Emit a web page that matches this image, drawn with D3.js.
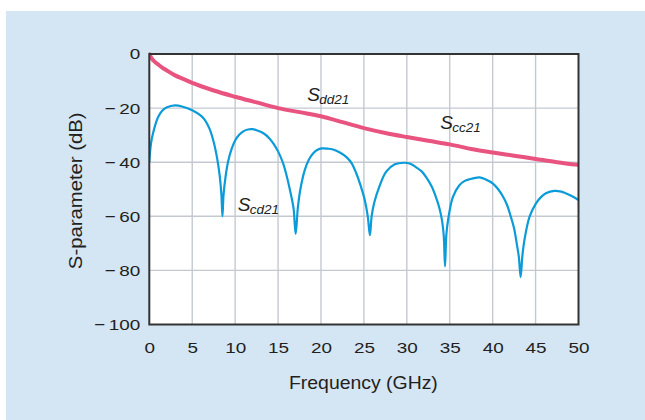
<!DOCTYPE html>
<html>
<head>
<meta charset="utf-8">
<script src="https://cdn.jsdelivr.net/npm/d3@7"></script>
<style>
  html, body { margin: 0; padding: 0; background: #ffffff; }
  svg { display: block; }
  text { font-family: "Liberation Sans", Arial, Helvetica, sans-serif; fill: #231f20; }
</style>
</head>
<body>
<svg id="chart" width="645" height="420"></svg>
<script>
// ---- data ----
const xTicks = [0, 5, 10, 15, 20, 25, 30, 35, 40, 45, 50];
const yTicks = [0, -20, -40, -60, -80, -100];

// Sdd21 / Scc21 (pink curve)
const freqDd = [0, 0.25, 0.5, 1, 1.5, 2, 3, 4, 5, 7.5, 10, 12.5, 15, 17.5, 20, 22.5, 25, 27.5, 30, 32.5, 35, 37.5, 40, 42.5, 45, 47.5, 50];
const sDd    = [0, -1.5, -2.5, -3.8, -5, -6, -7.9, -9.3, -10.7, -13.5, -15.8, -17.9, -20, -21.5, -23, -25.2, -27.4, -29.2, -30.7, -32.1, -33.4, -35.1, -36.4, -37.6, -38.8, -40, -41];

// Scd21 (mode conversion, blue curve)
const freqCd = [0, 0.2, 0.5, 1, 1.5, 2, 3, 4, 5, 6, 6.5, 7, 7.5, 7.9, 8.2, 8.4, 8.52, 8.65, 8.9, 9.2, 9.6, 10, 10.5, 11, 11.5, 12, 12.5, 13.3, 14, 14.5, 15, 15.6, 16, 16.4, 16.8, 17.05, 17.3, 17.6, 18.1, 18.6, 19.1, 19.6, 20.1, 20.8, 21.4, 22.2, 23, 23.6, 24.1, 24.6, 25.1, 25.45, 25.7, 25.9, 26.2, 26.8, 27.6, 28.6, 29.7, 30.4, 31.1, 31.7, 32.25, 32.9, 33.4, 33.8, 34.1, 34.3, 34.45, 34.6, 34.8, 35.35, 36.1, 36.7, 37.3, 38.45, 39.2, 40, 40.6, 41.2, 41.7, 42.1, 42.5, 42.8, 43.05, 43.26, 43.45, 43.7, 44.3, 45.05, 45.6, 46.2, 47.2, 48, 48.5, 49.2, 50];
const sCd    = [-40, -33, -28.5, -23.5, -21, -19.8, -19, -19.6, -20.8, -22.8, -24.5, -27.5, -32.5, -38.5, -45, -52, -60, -52, -45, -39.5, -35, -32, -29.8, -28.5, -27.9, -27.8, -28.2, -29.3, -31.2, -33.3, -36, -40.5, -45, -50.5, -57, -66.5, -57, -50, -43, -39, -36.7, -35.4, -34.9, -35, -35.3, -36.4, -38.2, -40.5, -44, -48.5, -54, -60, -67, -60, -55, -49, -43.5, -40.8, -40.2, -40.6, -41.9, -43.3, -45.5, -49, -53, -57, -61.5, -67, -78.5, -67, -61.5, -53, -48.6, -47, -46.3, -45.6, -46.4, -47.8, -49.8, -52.7, -56, -60, -64.5, -70, -75, -82.5, -75, -68.8, -60.1, -55.2, -53, -51.5, -50.6, -50.9, -51.5, -52.5, -54];

const labels = [
  { main: "S", sub: "dd21", f: 18.4, db: -17.3 },
  { main: "S", sub: "cc21", f: 33.9, db: -27.6 },
  { main: "S", sub: "cd21", f: 10.3, db: -58 }
];

// ---- drawing ----
const svg = d3.select("#chart");
svg.append("rect").attr("x", 6).attr("y", 11).attr("width", 639).attr("height", 409).attr("fill", "#d4e5f4");

const x = d3.scaleLinear().domain([0, 50]).range([149.3, 578.5]);
const y = d3.scaleLinear().domain([-100, 0]).range([324.5, 54]);

const plot = svg.append("g");
plot.append("rect").attr("x", x(0)).attr("y", y(0)).attr("width", x(50) - x(0)).attr("height", y(-100) - y(0)).attr("fill", "#ffffff");

// grid
plot.append("g").selectAll("line").data(xTicks.slice(1, -1)).join("line")
  .attr("x1", d => x(d)).attr("x2", d => x(d)).attr("y1", y(0)).attr("y2", y(-100))
  .attr("stroke", "#c4c9d1").attr("stroke-width", 1.4);
plot.append("g").selectAll("line").data(yTicks.slice(1, -1)).join("line")
  .attr("y1", d => y(d)).attr("y2", d => y(d)).attr("x1", x(0)).attr("x2", x(50))
  .attr("stroke", "#c4c9d1").attr("stroke-width", 1.4);

// lines
const ptsDd = freqDd.map((f, i) => [f, sDd[i]]);
const ptsCd = freqCd.map((f, i) => [f, sCd[i]]);
const lineSmooth = d3.line().x(d => x(d[0])).y(d => y(d[1])).curve(d3.curveMonotoneX);
const lineCd = d3.line().x(d => x(d[0])).y(d => y(d[1])).curve(d3.curveCatmullRom.alpha(0.5));

svg.append("clipPath").attr("id", "clip").append("rect")
  .attr("x", x(0)).attr("y", y(0) - 3).attr("width", x(50) - x(0)).attr("height", y(-100) - y(0) + 3);

plot.append("path").datum(ptsCd).attr("d", lineCd).attr("fill", "none")
  .attr("stroke", "#0b9bd9").attr("stroke-width", 2.2).attr("clip-path", "url(#clip)");
plot.append("path").datum(ptsDd).attr("d", lineSmooth).attr("fill", "none")
  .attr("stroke", "#e9537f").attr("stroke-width", 4).attr("stroke-linecap", "round").attr("clip-path", "url(#clip)");

// frame
plot.append("rect").attr("x", x(0)).attr("y", y(0)).attr("width", x(50) - x(0)).attr("height", y(-100) - y(0))
  .attr("fill", "none").attr("stroke", "#333333").attr("stroke-width", 2);

// axes
const tickScale = 1.22;
const fmtY = d => d < 0 ? "\u2212\u2009" + Math.abs(d) : String(d);
const gy = svg.append("g").attr("transform", `translate(${x(0)},0)`)
  .call(d3.axisLeft(y).tickValues(yTicks).tickSize(0).tickPadding(0).tickFormat(fmtY));
gy.select(".domain").remove();
gy.selectAll("text")
  .attr("font-family", "'Liberation Sans', Arial, sans-serif")
  .attr("font-size", 15.5).attr("fill", "#231f20")
  .attr("x", -9 / tickScale).attr("transform", `scale(${tickScale},1)`);

const gx = svg.append("g").attr("transform", `translate(0,${y(-100)})`)
  .call(d3.axisBottom(x).tickValues(xTicks).tickSize(0).tickPadding(0).tickFormat(d3.format("d")));
gx.select(".domain").remove();
gx.selectAll("text")
  .attr("font-family", "'Liberation Sans', Arial, sans-serif")
  .attr("font-size", 15.5).attr("fill", "#231f20")
  .attr("y", 29).attr("dy", 0).attr("transform", `scale(${tickScale},1)`);

// axis titles
svg.append("text").attr("transform", `translate(${x(25) - 0.5},388.5) scale(1.11,1)`)
  .attr("text-anchor", "middle").attr("font-size", 17.5).text("Frequency (GHz)");
svg.append("text").attr("transform", `translate(81.5,190.8) rotate(-90) scale(1.16,1)`)
  .attr("text-anchor", "middle").attr("font-size", 17.5).text("S-parameter (dB)");

// curve labels
const lab = svg.append("g").selectAll("g").data(labels).join("g")
  .attr("transform", d => `translate(${x(d.f)},${y(d.db)})`);
lab.append("text").attr("font-style", "italic").attr("font-size", 19).attr("x", 0).attr("y", 0).text(d => d.main);
lab.append("text").attr("font-style", "italic").attr("font-size", 13.5).attr("x", 12).attr("y", 3).text(d => d.sub);
</script>
</body>
</html>
